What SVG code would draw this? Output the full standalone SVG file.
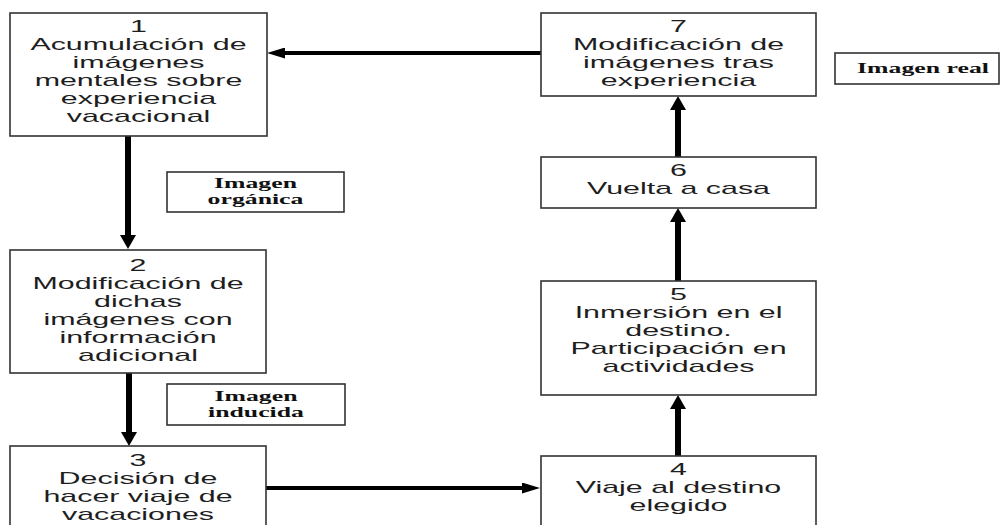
<svg xmlns="http://www.w3.org/2000/svg" width="1000" height="525" viewBox="0 0 1000 525">
<style>
.box{fill:#fff;stroke:#333;stroke-width:1.6}
.t{font-family:"Liberation Sans",Arial,sans-serif;font-size:16px;fill:#1e1e1e;text-anchor:middle}
.lb{font-family:"Liberation Serif","Times New Roman",serif;font-size:14px;font-weight:bold;fill:#111;text-anchor:middle}
.cv{stroke:#000;stroke-width:6;fill:none}
.ch{stroke:#000;stroke-width:4;fill:none}
</style>
<defs>
<marker id="ahv" markerUnits="userSpaceOnUse" markerWidth="14" markerHeight="16" viewBox="0 0 14 16" refX="2" refY="8" orient="auto">
<path d="M0,0 L14,8 L0,16 Z" fill="#000"/>
</marker>
<marker id="ahh" markerUnits="userSpaceOnUse" markerWidth="18" markerHeight="11" viewBox="0 0 18 11" refX="2" refY="5.5" orient="auto">
<path d="M0,0 L18,5.5 L0,11 Z" fill="#000"/>
</marker>
</defs>
<rect width="1000" height="525" fill="#fff"/>
<g id="connectors">
<line class="cv" x1="128" y1="136" x2="128" y2="237" marker-end="url(#ahv)"/>
<line class="cv" x1="129" y1="373" x2="129" y2="434" marker-end="url(#ahv)"/>
<line class="ch" x1="266" y1="488" x2="524" y2="488" marker-end="url(#ahh)"/>
<line class="cv" x1="678" y1="456" x2="678" y2="407" marker-end="url(#ahv)"/>
<line class="cv" x1="678" y1="281" x2="678" y2="220" marker-end="url(#ahv)"/>
<line class="cv" x1="678" y1="157" x2="678" y2="108" marker-end="url(#ahv)"/>
<line class="ch" x1="541" y1="53" x2="283" y2="53" marker-end="url(#ahh)"/>
</g>
<g id="n1">
<rect class="box" x="10" y="13" width="257" height="123"/>
<text class="t" transform="translate(138.5 0) scale(1.9 1)"><tspan x="0" y="32">1</tspan><tspan x="0" y="50">Acumulación de</tspan><tspan x="0" y="68">imágenes</tspan><tspan x="0" y="86">mentales sobre</tspan><tspan x="0" y="104">experiencia</tspan><tspan x="0" y="122">vacacional</tspan></text>
</g>
<g id="n2">
<rect class="box" x="10" y="250" width="256" height="123"/>
<text class="t" transform="translate(138 0) scale(1.9 1)"><tspan x="0" y="271">2</tspan><tspan x="0" y="289">Modificación de</tspan><tspan x="0" y="307">dichas</tspan><tspan x="0" y="325">imágenes con</tspan><tspan x="0" y="343">información</tspan><tspan x="0" y="361">adicional</tspan></text>
</g>
<g id="n3">
<rect class="box" x="10" y="446" width="256" height="90"/>
<text class="t" transform="translate(138 0) scale(1.9 1)"><tspan x="0" y="466">3</tspan><tspan x="0" y="484">Decisión de</tspan><tspan x="0" y="502">hacer viaje de</tspan><tspan x="0" y="520">vacaciones</tspan></text>
</g>
<g id="n4">
<rect class="box" x="541" y="456" width="275" height="80"/>
<text class="t" transform="translate(678.5 0) scale(1.9 1)"><tspan x="0" y="475">4</tspan><tspan x="0" y="493">Viaje al destino</tspan><tspan x="0" y="511">elegido</tspan></text>
</g>
<g id="n5">
<rect class="box" x="541" y="281" width="275" height="114"/>
<text class="t" transform="translate(678.5 0) scale(1.9 1)"><tspan x="0" y="300">5</tspan><tspan x="0" y="318">Inmersión en el</tspan><tspan x="0" y="336">destino.</tspan><tspan x="0" y="354">Participación en</tspan><tspan x="0" y="372">actividades</tspan></text>
</g>
<g id="n6">
<rect class="box" x="541" y="157" width="275" height="51"/>
<text class="t" transform="translate(678.5 0) scale(1.9 1)"><tspan x="0" y="176">6</tspan><tspan x="0" y="194">Vuelta a casa</tspan></text>
</g>
<g id="n7">
<rect class="box" x="541" y="13" width="275" height="83"/>
<text class="t" transform="translate(678.5 0) scale(1.9 1)"><tspan x="0" y="32">7</tspan><tspan x="0" y="50">Modificación de</tspan><tspan x="0" y="68">imágenes tras</tspan><tspan x="0" y="86">experiencia</tspan></text>
</g>
<g id="l-organica">
<rect class="box" x="167" y="172" width="177" height="40"/>
<text class="lb" transform="translate(255.5 0) scale(1.84 1)"><tspan x="0" y="188">Imagen</tspan><tspan x="0" y="204">orgánica</tspan></text>
</g>
<g id="l-inducida">
<rect class="box" x="167" y="384" width="178" height="41"/>
<text class="lb" transform="translate(256 0) scale(1.84 1)"><tspan x="0" y="401">Imagen</tspan><tspan x="0" y="417">inducida</tspan></text>
</g>
<g id="l-real">
<rect class="box" x="835" y="53" width="164" height="31"/>
<text class="lb" transform="translate(923 0) scale(1.84 1)"><tspan x="0" y="73">Imagen real</tspan></text>
</g>
</svg>
